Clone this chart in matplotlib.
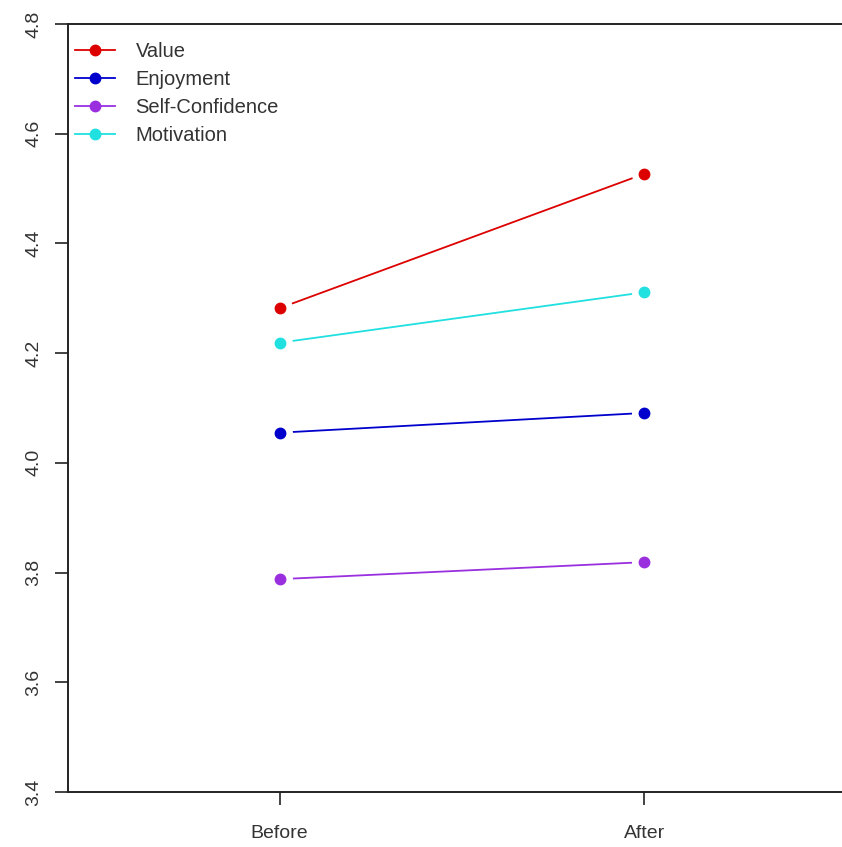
import matplotlib

matplotlib.use("Agg")
import matplotlib.pyplot as plt
from matplotlib.lines import Line2D

plt.rcParams["font.family"] = ["Liberation Sans", "DejaVu Sans"]

# ---- data ----
stages = ["Before", "After"]
x_pos = [1, 2]
value = [4.282, 4.527]
enjoyment = [4.055, 4.091]
self_conf = [3.788, 3.819]
motivation = [4.219, 4.311]

series = [
    ("Value", value, "#DD0000"),
    ("Enjoyment", enjoyment, "#0000CC"),
    ("Self-Confidence", self_conf, "#9A2FE0"),
    ("Motivation", motivation, "#20E0E0"),
]
y_ticks = [3.4, 3.6, 3.8, 4.0, 4.2, 4.4, 4.6, 4.8]

W, H = 842, 847
fig = plt.figure(figsize=(W / 100, H / 100), dpi=100)
fig.patch.set_facecolor("white")

# R-style plot region; the right border falls outside the saved image
L, R, T, B = 68, 856, 24, 792
ax = fig.add_axes([L / W, 1 - B / H, (R - L) / W, (B - T) / H])

for name, vals, col in series:
    ax.plot(x_pos, vals, color=col, lw=1.3, zorder=2)
    # white halo gives the R type="b" gap between line and point
    ax.plot(x_pos, vals, "o", color="white", ms=17, mec="white", zorder=3)
    ax.plot(x_pos, vals, "o", color=col, ms=7.5, mec=col, zorder=4)

ax.set_xlim(0.42, 2.58)
ax.set_ylim(3.4, 4.8)
ax.set_xticks(x_pos)
ax.set_xticklabels(stages)
ax.set_yticks(y_ticks)
ax.set_yticklabels([f"{v:.1f}" for v in y_ticks], rotation=90, va="center")

for s in ax.spines.values():
    s.set_linewidth(1.4)
    s.set_color("#222222")
ax.tick_params(axis="both", direction="out", length=9.5, width=1.2,
               colors="#222222", labelsize=14, labelcolor="#333333")
ax.tick_params(axis="x", pad=14)
ax.tick_params(axis="y", pad=9)

handles = [Line2D([0], [0], color=c, lw=1.3, marker="o", ms=7.5, mec=c)
           for _, _, c in series]
ax.legend(handles, [n for n, _, _ in series], loc="upper left",
          bbox_to_anchor=(-0.014, 1.0), frameon=False, fontsize=14.5,
          handlelength=2.0, handletextpad=1.0, labelspacing=0.45,
          borderaxespad=0.5, labelcolor="#333333")

fig.savefig("out.png", dpi=100, facecolor="white")
